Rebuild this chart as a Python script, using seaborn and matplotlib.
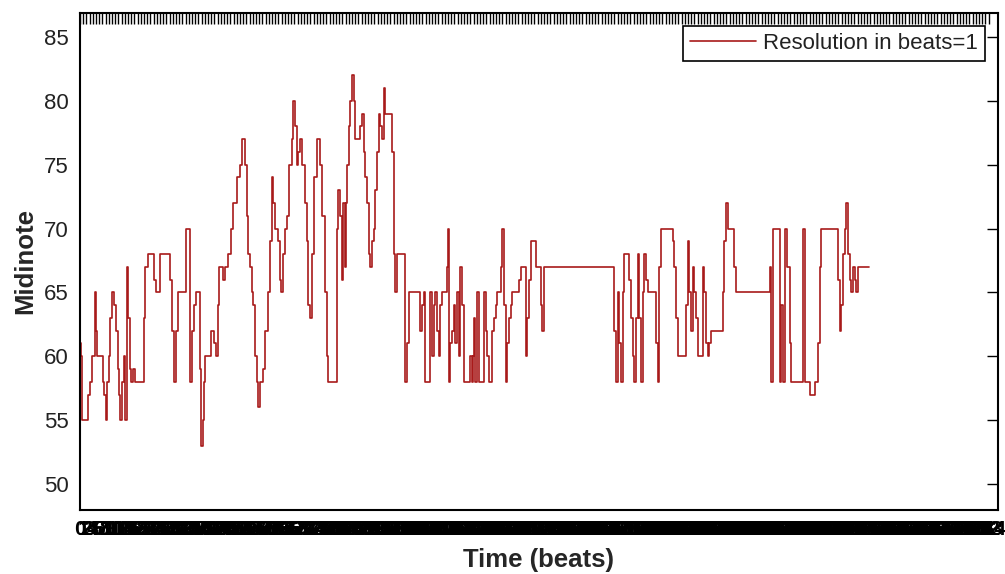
import numpy as np
import pandas as pd
import matplotlib
matplotlib.use("Agg")
import matplotlib.pyplot as plt
import seaborn as sns

# ---- data -------------------------------------------------------------
onset_beats = [
    0.0, 0.3, 0.6, 2.5, 3.1, 3.75, 4.7, 5.0, 5.3, 7.2, 7.5, 8.1, 8.4, 9.1, 9.4,
    10.0, 10.6, 11.25, 11.9, 12.2, 12.5, 13.1, 13.75, 14.1, 14.7, 15.0, 15.6,
    15.9, 16.6, 17.2, 20.0, 20.3, 21.25, 23.1, 23.75, 25.0, 28.1, 28.75, 29.4,
    30.0, 30.6, 33.1, 34.4, 35.0, 35.6, 36.25, 37.5, 37.8, 38.4, 38.75, 39.1,
    40.9, 41.9, 42.5, 43.1, 43.4, 44.7, 45.3, 46.25, 47.2, 47.8, 49.1, 50.0,
    50.6, 51.6, 52.2, 52.5, 53.1, 53.75, 54.1, 54.7, 55.3, 55.6, 56.25, 57.2,
    57.8, 58.75, 59.4, 60.0, 60.3, 60.9, 61.9, 62.5, 62.8, 63.4, 64.1, 64.7,
    65.3, 66.25, 66.6, 67.2, 67.8, 68.1, 68.75, 69.4, 70.3, 70.9, 71.25, 71.9,
    72.5, 73.1, 74.1, 75.0, 75.6, 76.6, 77.2, 77.5, 80.3, 80.6, 81.25, 81.9,
    82.2, 82.8, 83.1, 83.4, 84.1, 84.4, 85.0, 85.6, 85.9, 87.5, 88.1, 88.75,
    89.1, 89.7, 90.3, 90.6, 91.25, 91.9, 92.2, 92.8, 93.4, 93.75, 94.4, 95.0,
    95.3, 97.5, 98.1, 98.4, 99.1, 101.6, 102.2, 102.8, 106.25, 106.9, 107.5,
    107.8, 109.4, 110.0, 110.6, 110.9, 111.6, 112.2, 112.5, 113.1, 114.7,
    115.0, 115.3, 115.6, 116.25, 116.9, 117.2, 117.8, 118.4, 118.75, 119.4,
    120.0, 121.9, 122.5, 122.8, 123.1, 123.4, 124.1, 124.7, 126.25, 126.9,
    127.2, 127.8, 128.75, 129.4, 130.0, 130.3, 131.6, 131.9, 132.5, 133.1,
    133.4, 134.1, 134.7, 135.0, 137.2, 137.8, 139.4, 139.7, 140.3, 140.9,
    142.5, 144.1, 144.4, 145.0, 166.9, 167.5, 168.1, 168.4, 169.1, 169.7,
    170.0, 171.6, 172.2, 172.8, 173.1, 173.75, 174.4, 174.7, 175.3, 175.9,
    176.25, 176.9, 177.5, 180.0, 180.6, 180.9, 181.6, 185.3, 185.6, 186.25,
    186.9, 189.4, 190.0, 190.3, 190.9, 191.6, 191.9, 192.5, 193.1, 194.7,
    195.0, 195.6, 196.25, 196.6, 197.2, 200.9, 201.25, 201.9, 202.5, 204.4,
    205.0, 215.6, 215.9, 216.6, 218.75, 219.1, 219.7, 220.3, 220.9, 221.9,
    222.2, 225.9, 226.6, 228.1, 229.7, 230.6, 231.25, 231.6, 236.9, 237.5,
    237.8, 238.4, 239.1, 239.4, 240.0, 240.6, 240.9, 241.6, 242.2, 242.5,
    243.1, 246.6,
]
midinote = [
    61, 60, 55, 57, 58, 60, 65, 62, 60, 58, 57, 55, 58, 60, 63,
    65, 64, 62, 59, 57, 55, 58, 60, 55, 67, 63, 59,
    58, 59, 58, 63, 67, 68, 66, 65, 68, 66, 62, 58,
    62, 65, 70, 58, 62, 64, 65, 59, 53, 55, 58, 60,
    62, 61, 60, 64, 67, 66, 67, 68, 70, 72, 74, 75,
    77, 75, 71, 68, 67, 65, 64, 60, 58, 56, 58, 59,
    62, 65, 69, 74, 72, 70, 69, 66, 65, 68, 70, 71,
    75, 77, 80, 78, 75, 76, 77, 75, 72, 69, 64, 63,
    68, 74, 77, 75, 71, 65, 60, 58, 70, 73, 71, 66,
    72, 67, 72, 75, 78, 80, 82, 80, 77, 78, 79, 76,
    74, 72, 68, 67, 69, 70, 73, 76, 79, 78, 77, 81,
    79, 76, 68, 65, 68, 58, 61, 65, 62, 64, 65,
    58, 65, 60, 64, 65, 62, 60, 64, 65, 67,
    70, 58, 61, 62, 64, 61, 65, 60, 67, 64,
    58, 60, 58, 60, 63, 58, 65, 58, 65, 62,
    60, 58, 62, 63, 64, 65, 67, 70, 64, 58,
    61, 63, 64, 65, 66, 67, 60, 63, 66, 69,
    67, 64, 62, 67, 62, 58, 65, 61, 58, 65,
    68, 66, 63, 60, 58, 63, 68, 63, 58, 65,
    68, 66, 65, 61, 58, 67, 70, 69, 67, 63,
    60, 64, 69, 65, 62, 67, 65, 63, 60, 67,
    65, 61, 60, 61, 62, 65, 69, 72, 70, 67,
    65, 67, 58, 70, 58, 64, 58, 70, 67, 61,
    58, 70, 58, 57, 58, 61, 67, 70, 66, 62,
    64, 68, 70, 72, 68, 66, 65, 67, 66, 65,
    67, 67,
]
beat_ticks = np.arange(0, 285)
y_ticks = [50, 55, 60, 65, 70, 75, 80, 85]
legend_label = "Resolution in beats=1"
x_label = "Time (beats)"
y_label = "Midinote"

# ---- styling ----------------------------------------------------------
sns.set_theme(style="white")
plt.rcParams["font.family"] = ["Liberation Sans", "DejaVu Sans"]

fig = plt.figure(figsize=(10.05, 5.74), dpi=100)
ax = fig.add_axes([0.0796, 0.1115, 0.9134, 0.8659])

df = pd.DataFrame({"Time (beats)": onset_beats, "Midinote": midinote})
sns.lineplot(data=df, x="Time (beats)", y="Midinote", ax=ax,
             drawstyle="steps-post", color="#a81a1a", linewidth=1.2,
             estimator=None, sort=False, label=legend_label)

ax.set_xlim(0, 286.9)
ax.set_ylim(47.96, 86.88)
ax.set_yticks(y_ticks)
ax.set_yticklabels([str(v) for v in y_ticks])
ax.set_xticks(beat_ticks)
ax.set_xticklabels([str(v) for v in beat_ticks])

ax.tick_params(axis="both", direction="in", length=8, width=1,
               top=True, right=True, labelsize=16, colors="black",
               labelcolor="#222222")
ax.tick_params(axis="x", pad=7, labelcolor="black", labelsize=15)
ax.tick_params(axis="y", pad=8)
for lbl in ax.get_xticklabels():
    lbl.set_fontweight("bold")

for sp in ax.spines.values():
    sp.set_visible(True)
    sp.set_color("black")
    sp.set_linewidth(1.5)

ax.set_xlabel(x_label, fontsize=18.5, fontweight="bold", labelpad=7)
ax.set_ylabel(y_label, fontsize=18.5, fontweight="bold", labelpad=5)

leg = ax.legend(loc="upper right", frameon=True, fancybox=False,
                edgecolor="black", framealpha=1, fontsize=16,
                handlelength=3.0, borderaxespad=0.6, borderpad=0.3,
                handletextpad=0.3)
leg.get_frame().set_linewidth(1.2)
for t in leg.get_texts():
    t.set_color("#222222")

fig.savefig("out.png", dpi=100, facecolor="white")
